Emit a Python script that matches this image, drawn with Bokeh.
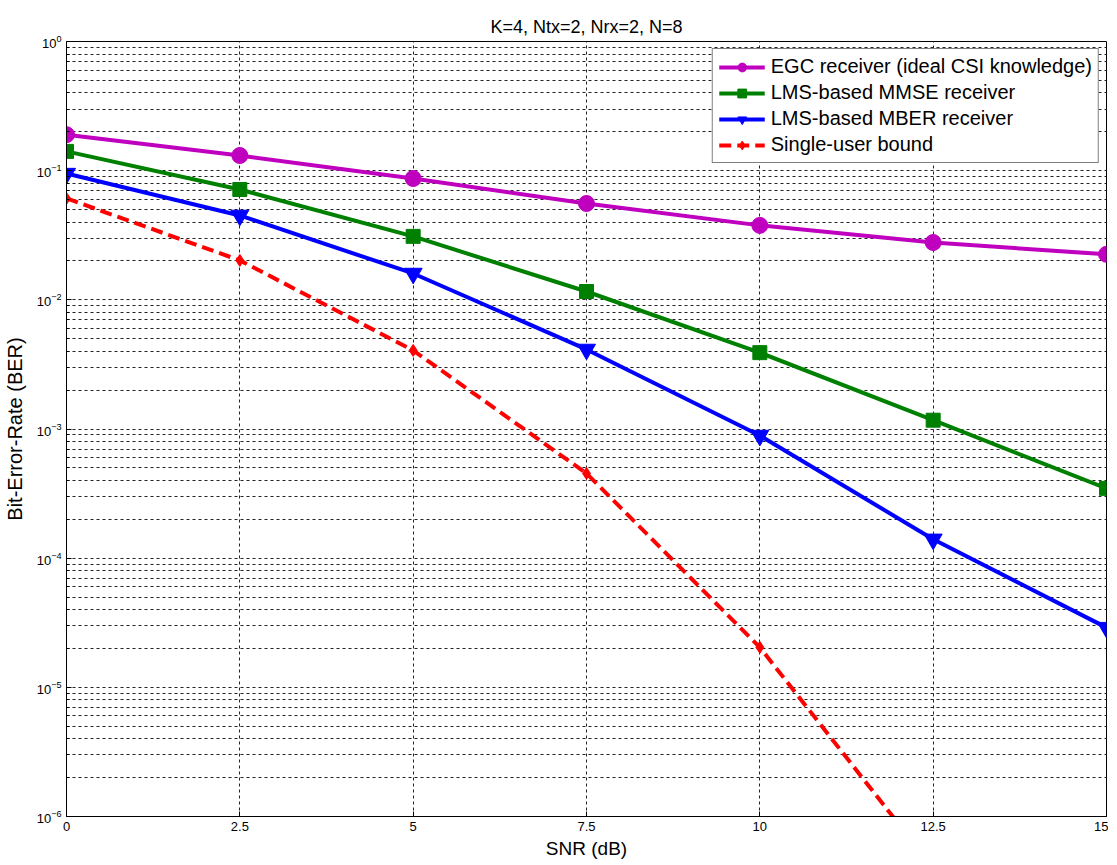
from bokeh.plotting import figure
from bokeh.models import Range1d, FixedTicker, Legend, LegendItem
from bokeh.embed import file_html
from bokeh.resources import INLINE

snr = [0, 2.5, 5, 7.5, 10, 12.5, 15]
egc = [0.19, 0.131, 0.087, 0.0557, 0.0377, 0.0278, 0.0225]
mmse = [0.141, 0.0715, 0.031, 0.0116, 0.0039, 0.00117, 0.000347]
mber = [0.095, 0.045, 0.016, 0.00413, 0.00089, 0.00014, 0.000029]
snr_su = [0, 2.5, 5, 7.5, 10, 12.5]
single_user = [0.061, 0.0202, 0.00406, 0.000453, 0.0000204, 0.0000004]

x_ticks = [0, 2.5, 5, 7.5, 10, 12.5, 15]
x_labels = ["0", "2.5", "5", "7.5", "10", "12.5", "15"]
y_major = [1e-6, 1e-5, 1e-4, 1e-3, 1e-2, 1e-1, 1]
y_minor = [m * 10.0 ** k for k in range(-6, 0) for m in range(2, 10)]

FONT = "Liberation Sans"

p = figure(frame_width=1040, frame_height=775, y_axis_type="log",
           x_range=Range1d(0, 15), y_range=Range1d(1e-6, 1),
           output_backend="svg", toolbar_location=None,
           min_border_left=60, min_border_right=2, min_border_top=41, min_border_bottom=38,
           title="K=4, Ntx=2, Nrx=2, N=8")
p.title.align = "center"
p.title.text_font = FONT
p.title.text_font_size = "18px"
p.title.text_font_style = "normal"
p.title.text_color = "black"

p.background_fill_color = "white"
p.border_fill_color = "white"
p.outline_line_color = "black"
p.outline_line_width = 1

p.xaxis.ticker = FixedTicker(ticks=x_ticks)
p.xaxis.major_label_overrides = {t: l for t, l in zip(x_ticks, x_labels)}
p.yaxis.ticker = FixedTicker(ticks=y_major, minor_ticks=y_minor)

for ax in (p.xaxis[0], p.yaxis[0]):
    ax.major_label_text_font = FONT
    ax.major_label_text_font_size = "13px"
    ax.major_label_text_color = "black"
    ax.axis_label_text_font = FONT
    ax.axis_label_text_font_size = "19px"
    ax.axis_label_text_font_style = "normal"
    ax.axis_label_text_color = "black"
    ax.axis_line_color = "black"
    ax.major_tick_in = 5
    ax.major_tick_out = 0
    ax.minor_tick_in = 3
    ax.minor_tick_out = 0
    ax.major_tick_line_color = "black"
    ax.minor_tick_line_color = "black"
p.yaxis.axis_label_text_font_size = "20px"
p.xaxis.axis_label = "SNR (dB)"
p.yaxis.axis_label = "Bit-Error-Rate (BER)"
p.xaxis.axis_label_standoff = 4
p.yaxis.axis_label_standoff = 8
p.xaxis.major_label_standoff = 5
p.yaxis.major_label_standoff = 5

p.xgrid.grid_line_color = "#222222"
p.xgrid.grid_line_dash = "3 3"
p.xgrid.grid_line_width = 1
p.ygrid.grid_line_color = "#222222"
p.ygrid.grid_line_dash = "3 3"
p.ygrid.minor_grid_line_color = "#222222"
p.ygrid.minor_grid_line_dash = "3 3"

items = []
l1 = p.line(snr, egc, line_color="#bf00bf", line_width=4)
m1 = p.scatter(snr, egc, marker="circle", size=16, fill_color="#bf00bf", line_color="#bf00bf")
items.append(LegendItem(label="EGC receiver (ideal CSI knowledge)", renderers=[l1, m1]))
l2 = p.line(snr, mmse, line_color="#008000", line_width=4)
m2 = p.scatter(snr, mmse, marker="square", size=14, fill_color="#008000", line_color="#008000")
items.append(LegendItem(label="LMS-based MMSE receiver", renderers=[l2, m2]))
l3 = p.line(snr, mber, line_color="#0000ff", line_width=4)
m3 = p.scatter(snr, mber, marker="inverted_triangle", size=18, fill_color="#0000ff", line_color="#0000ff")
items.append(LegendItem(label="LMS-based MBER receiver", renderers=[l3, m3]))
l4 = p.line(snr_su, single_user, line_color="#ff0000", line_width=4, line_dash="12 6")
m4 = p.scatter(snr_su, single_user, marker="diamond", size=12, fill_color="#ff0000", line_color="#ff0000")
items.append(LegendItem(label="Single-user bound", renderers=[l4, m4]))

legend = Legend(items=items, location="top_right")
legend.label_text_font = FONT
legend.label_text_font_size = "20px"
legend.label_text_color = "black"
legend.border_line_color = "black"
legend.border_line_width = 1
legend.background_fill_color = "white"
legend.background_fill_alpha = 1
legend.glyph_width = 46
legend.glyph_height = 22
legend.label_height = 22
legend.spacing = 3
legend.padding = 6
legend.margin = 7
legend.label_standoff = 6
p.add_layout(legend)

open("out.html", "w").write(file_html(p, INLINE))
